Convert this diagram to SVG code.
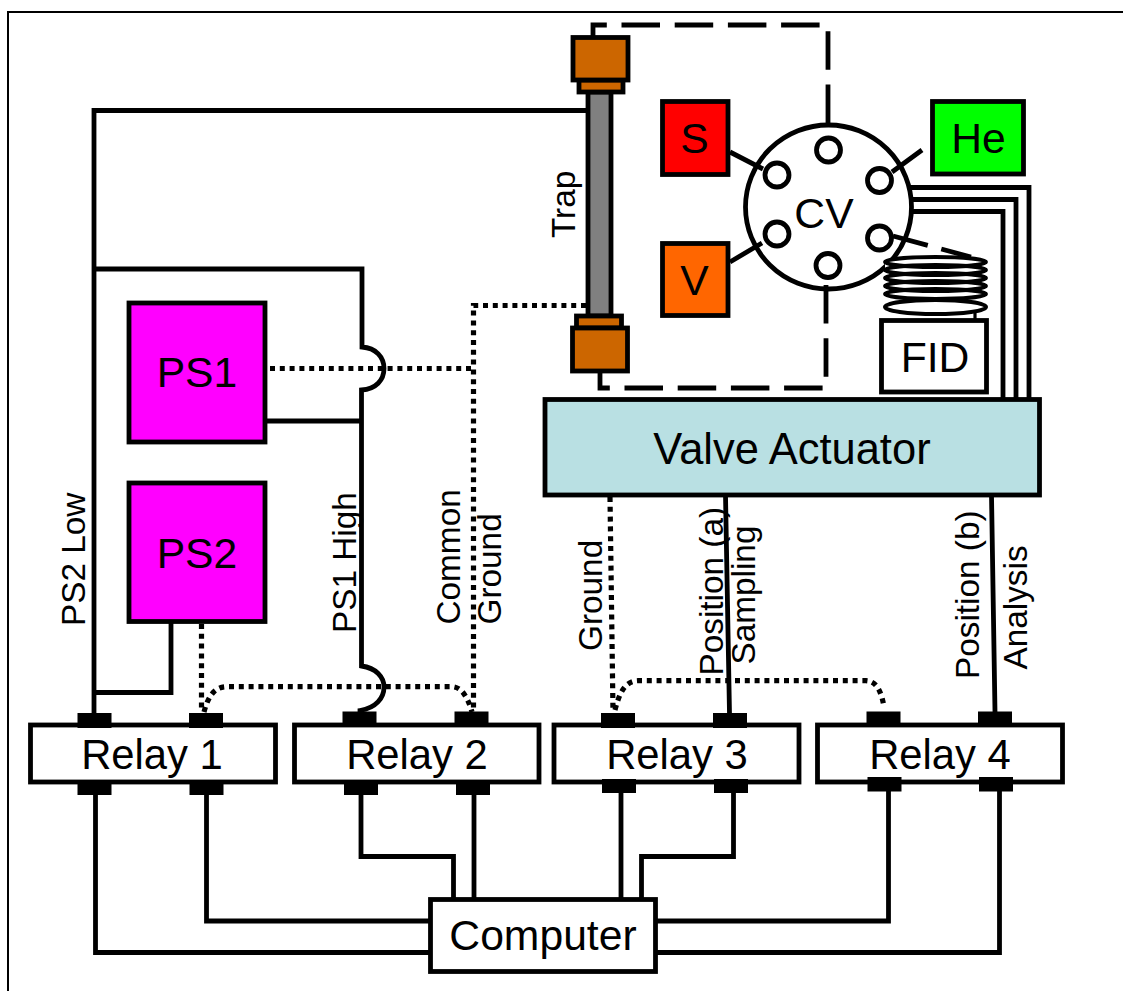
<svg xmlns="http://www.w3.org/2000/svg" width="1123" height="991" viewBox="0 0 1123 991">
<style>
text{font-family:"Liberation Sans",Arial,sans-serif;fill:#000;font-size:42.67px}
.c{text-anchor:middle}
.l{font-size:33.33px}
.r{font-size:41.8px}
.va{font-size:43.5px}
.b{stroke:#000;stroke-width:4.8}
.w{fill:#fff}
.t{fill:#000}
.f{fill:#cc6600}
.ln{fill:none;stroke:#000;stroke-width:4.8;stroke-linejoin:miter}
.dot{fill:none;stroke:#000;stroke-width:5.2;stroke-dasharray:5 4.8}
.dash{fill:none;stroke:#000;stroke-width:4.8;stroke-dasharray:38.5 14.7}
.port{fill:#fff;stroke:#000;stroke-width:4.8}
.coil{fill:none;stroke:#000;stroke-width:4}
</style>
<rect width="1123" height="991" fill="#fff"/>
<path d="M8,991V12H1123" fill="none" stroke="#000" stroke-width="2"/>
<g id="trap">
<rect class="b" x="588" y="92" width="23" height="224" fill="#808080"/>
<rect class="b f" x="579" y="80" width="44" height="12"/>
<rect class="b f" x="573" y="37.500" width="55" height="42.500"/>
<rect class="b f" x="576.500" y="316" width="45" height="12"/>
<rect class="b f" x="572.500" y="328" width="55" height="43"/>
<text class="l" transform="translate(574.500,238) rotate(-90)">Trap</text>
</g>
<g id="S"><rect class="b" x="662.500" y="101.500" width="65.500" height="73" fill="#ff0000"/><text class="c" x="694.500" y="153">S</text></g>
<g id="V"><rect class="b" x="662.500" y="243.500" width="65.500" height="72" fill="#ff6600"/><text class="c" x="694.500" y="294.500">V</text></g>
<g id="He"><rect class="b" x="932.500" y="101.500" width="91" height="72.500" fill="#00ff00"/><text class="c" x="978.500" y="153">He</text></g>
<g id="CV">
<ellipse class="b w" cx="828.500" cy="207" rx="83" ry="82"/>
<circle class="port" cx="828.500" cy="150" r="12"/>
<circle class="port" cx="777" cy="175" r="12"/>
<circle class="port" cx="879.500" cy="180.500" r="12"/>
<circle class="port" cx="777" cy="234" r="12"/>
<circle class="port" cx="879.500" cy="238" r="12"/>
<circle class="port" cx="828" cy="265.500" r="12"/>
<text class="c" x="824" y="228">CV</text>
</g>
<g id="coil">
<path class="w" d="M885,262C885,254 986,254 986,262V307C986,317 885,317 885,307Z"/>
<ellipse class="coil" cx="935.500" cy="262" rx="50.500" ry="5"/>
<ellipse class="coil" cx="935.500" cy="270" rx="50.500" ry="5"/>
<ellipse class="coil" cx="935.500" cy="278" rx="50.500" ry="5"/>
<ellipse class="coil" cx="935.500" cy="286" rx="50.500" ry="5"/>
<ellipse class="coil" cx="935.500" cy="294" rx="50.500" ry="5"/>
<ellipse class="coil" cx="935.500" cy="307" rx="50.500" ry="7"/>
<path d="M975,313V320" fill="none" stroke="#000" stroke-width="3.200"/>
</g>
<g id="FID"><rect class="b w" x="881.500" y="320.500" width="105" height="71.500"/><text class="c" x="935" y="371.500">FID</text></g>
<g id="ValveActuator"><rect class="b" x="545" y="399.500" width="494.500" height="95.500" fill="#b9e0e3"/><text class="c va" x="792" y="463.500">Valve Actuator</text></g>
<g id="PS1"><rect class="b" x="129" y="303" width="136" height="139" fill="#ff00ff"/><text class="c" x="197" y="387">PS1</text></g>
<g id="PS2"><rect class="b" x="129" y="483" width="136" height="138.500" fill="#ff00ff"/><text class="c" x="197" y="567.500">PS2</text></g>
<g id="relay1">
<rect class="b w" x="30.500" y="725" width="245" height="57"/>
<rect class="t" x="77.500" y="713" width="34" height="15"/><rect class="t" x="189" y="713" width="34" height="15"/>
<rect class="t" x="77.500" y="783" width="34" height="12"/><rect class="t" x="189.500" y="783" width="34" height="12"/>
<text class="c r" x="152" y="768.500">Relay 1</text>
</g>
<g id="relay2">
<rect class="b w" x="294.500" y="725" width="244.500" height="57"/>
<rect class="t" x="342.500" y="711.500" width="34" height="13"/><rect class="t" x="454.500" y="711.500" width="34" height="13"/>
<rect class="t" x="344" y="783" width="34" height="12"/><rect class="t" x="456" y="783" width="34" height="12"/>
<text class="c r" x="417" y="768.500">Relay 2</text>
</g>
<g id="relay3">
<rect class="b w" x="554" y="725" width="245" height="57"/>
<rect class="t" x="601" y="713" width="34" height="15"/><rect class="t" x="713" y="713" width="34" height="15"/>
<rect class="t" x="602" y="779" width="34" height="14"/><rect class="t" x="714" y="779" width="34" height="14"/>
<text class="c r" x="677" y="768.500">Relay 3</text>
</g>
<g id="relay4">
<rect class="b w" x="817.500" y="725" width="245" height="57"/>
<rect class="t" x="866.500" y="711.500" width="34" height="13"/><rect class="t" x="978" y="711.500" width="34" height="13"/>
<rect class="t" x="867.500" y="777" width="34" height="14.500"/><rect class="t" x="979" y="777" width="34" height="14.500"/>
<text class="c r" x="940" y="768.500">Relay 4</text>
</g>
<g id="computer"><rect class="b w" x="430.500" y="899.500" width="225" height="72"/><text class="c" x="543" y="950">Computer</text></g>
<g id="connectors">
<path class="dash" d="M828,123V25H593V36"/>
<path class="dash" d="M826,285V388H600V372"/>
<path class="ln" d="M730,152L763,169M730,262L762,243M922,150L892,172"/>
<path class="ln" d="M893,236L971,257" stroke-dasharray="36 14"/>
<path class="ln" d="M909,187.500H1029V399M911,199.500H1016V399M911,211.500H1003V399"/>
<path class="ln" d="M94,713V110.500H587M94,269H362V347C376,348 384,357 384,368.500C384,380 376,389 361.500,390V666C376,668 384,677 384,687C384,698 376,708 360,710.500V713M94,692.500H171V623M265,421H362"/>
<path class="dot" d="M270,368.500H473.500"/>
<path class="dot" d="M586,305.500H473.500V712"/>
<path class="dot" d="M201.500,624V712"/>
<path class="dot" d="M204,712C208,697 214,687 226,686.700H452C462,687 468,698 472,712"/>
<path class="dot" d="M610,497L613,712"/>
<path class="dot" d="M615,710C619,695 624,681 638,680.700H866C878,681 882,695 884,707"/>
<path class="ln" d="M725.500,495L729.500,713M991.500,495L995,712"/>
<path class="ln" d="M95.500,795V952.500H430M206.500,795V921H430M361,795V856.500H453.500V899M474,795V899M621,793V899M733.500,793V856.500H641.500V899M888.500,791V921H655M999.500,791V952.500H655"/>
</g>
<g id="labels">
<text class="l" transform="translate(85,626) rotate(-90)">PS2 Low</text>
<text class="l" transform="translate(356,633) rotate(-90)">PS1 High</text>
<text class="l" transform="translate(460,624.500) rotate(-90)">Common</text>
<text class="l" transform="translate(500.500,624.500) rotate(-90)">Ground</text>
<text class="l" transform="translate(601.500,651) rotate(-90)">Ground</text>
<text class="l" transform="translate(723,675.500) rotate(-90)">Position (a)</text>
<text class="l" transform="translate(755,664.500) rotate(-90)">Sampling</text>
<text class="l" transform="translate(979,679) rotate(-90)">Position (b)</text>
<text class="l" transform="translate(1027,669.500) rotate(-90)">Analysis</text>
</g>
</svg>
